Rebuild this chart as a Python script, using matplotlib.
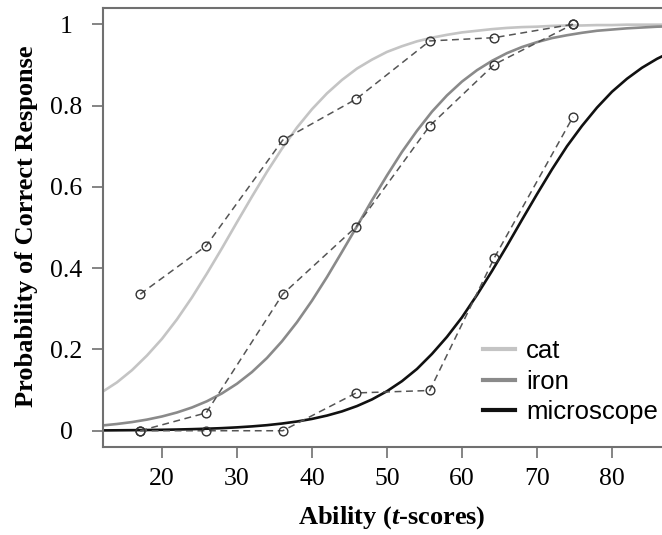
import matplotlib
matplotlib.use("Agg")
import matplotlib.pyplot as plt
from matplotlib.lines import Line2D

# ---------------- data ----------------
ability_grid = [12, 14, 16, 18, 20, 22, 24, 26, 28, 30, 32, 34, 36, 38, 40, 42, 44, 46, 48, 50,
                52, 54, 56, 58, 60, 62, 64, 66, 68, 70, 72, 74, 76, 78, 80, 82, 84, 86, 88, 89.2]
cat_curve = [0.095, 0.119, 0.149, 0.185, 0.226, 0.274, 0.328, 0.387, 0.449, 0.513,
             0.576, 0.637, 0.694, 0.746, 0.791, 0.830, 0.863, 0.891, 0.913, 0.932,
             0.946, 0.958, 0.967, 0.974, 0.980, 0.984, 0.988, 0.991, 0.993, 0.994,
             0.996, 0.997, 0.997, 0.998, 0.998, 0.999, 0.999, 0.999, 0.999, 0.9995]
iron_curve = [0.0129, 0.0166, 0.0213, 0.0274, 0.0351, 0.0449, 0.0572, 0.0726, 0.0919, 0.1156,
              0.1444, 0.179, 0.220, 0.267, 0.320, 0.378, 0.440, 0.503, 0.567, 0.628,
              0.686, 0.738, 0.785, 0.825, 0.859, 0.887, 0.910, 0.929, 0.944, 0.956,
              0.966, 0.973, 0.979, 0.984, 0.987, 0.990, 0.992, 0.994, 0.995, 0.996]
microscope_curve = [0.0008, 0.0011, 0.0014, 0.0018, 0.0023, 0.0030, 0.0039, 0.0050, 0.0064, 0.0083,
                    0.0107, 0.0137, 0.0177, 0.0227, 0.0291, 0.0373, 0.0476, 0.0607, 0.0770, 0.0973,
                    0.122, 0.152, 0.189, 0.231, 0.279, 0.334, 0.393, 0.455, 0.519, 0.582,
                    0.643, 0.700, 0.750, 0.795, 0.834, 0.866, 0.893, 0.915, 0.933, 0.942]

ability_obs = [17.1, 25.9, 36.1, 45.9, 55.7, 64.3, 74.8]
cat_obs = [0.336, 0.455, 0.715, 0.816, 0.959, 0.967, 1.0]
iron_obs = [0.0, 0.044, 0.336, 0.502, 0.750, 0.901, 1.0]
microscope_obs = [0.0, 0.0, 0.0, 0.093, 0.099, 0.425, 0.772]

items = ["cat", "iron", "microscope"]
item_colors = ["#c4c4c4", "#8a8a8a", "#111111"]
x_ticks = [20, 30, 40, 50, 60, 70, 80]
y_ticks = [0, 0.2, 0.4, 0.6, 0.8, 1]
y_tick_labels = ["0", "0.2", "0.4", "0.6", "0.8", "1"]

# ---------------- style ----------------
plt.rcParams["mathtext.fontset"] = "custom"
plt.rcParams["mathtext.rm"] = "Liberation Serif:bold"
plt.rcParams["mathtext.it"] = "Liberation Serif:bold:italic"

W, H = 662, 535
fig = plt.figure(figsize=(W / 100, H / 100), dpi=100)
left_px, right_px, top_px, bottom_px = 103, 681, 8, 447
ax = fig.add_axes([left_px / W, 1 - bottom_px / H, (right_px - left_px) / W, (bottom_px - top_px) / H])
ax.set_xlim(12.14, 89.2)
ax.set_ylim(-0.04, 1.04)

curves = [cat_curve, iron_curve, microscope_curve]
for vals, col in zip(curves, item_colors):
    ax.plot(ability_grid, vals, color=col, lw=1.9, solid_capstyle="round",
            solid_joinstyle="round", zorder=2)

for obs in [cat_obs, iron_obs, microscope_obs]:
    ax.plot(ability_obs, obs, color="#555555", lw=1.1, dashes=(4.5, 3),
            marker="o", markersize=6.3, markerfacecolor="none",
            markeredgecolor="#333333", markeredgewidth=1.0, zorder=3)

spine_col = "#707070"
for s in ax.spines.values():
    s.set_color(spine_col)
    s.set_linewidth(1.5)

ax.set_xticks(x_ticks)
ax.set_yticks(y_ticks)
ax.set_yticklabels(y_tick_labels)
ax.tick_params(direction="out", length=8, width=1.2, color=spine_col, labelsize=18.5)
ax.tick_params(axis="y", pad=18.5)
ax.tick_params(axis="x", pad=7)
for lab in ax.get_xticklabels() + ax.get_yticklabels():
    lab.set_fontfamily("Liberation Serif")
for lab in ax.get_yticklabels():
    lab.set_horizontalalignment("center")

ax.set_xlabel(r"Ability ($\mathit{t}$-scores)", fontsize=19, fontweight="bold",
              family="Liberation Serif")
ax.xaxis.set_label_coords(0.5, (bottom_px - 518) / (bottom_px - top_px))
ax.xaxis.label.set_verticalalignment("center")
ax.set_ylabel("Probability of Correct Response", fontsize=19, fontweight="bold",
              family="Liberation Serif")
ax.yaxis.set_label_coords((27 - left_px) / (right_px - left_px), (bottom_px - 226) / (bottom_px - top_px))
ax.yaxis.label.set_verticalalignment("center")

handles = [Line2D([], [], color=c, lw=3) for c in item_colors]
leg = ax.legend(handles, items, loc="center left",
                bbox_to_anchor=((483 - left_px) / (right_px - left_px), (bottom_px - 381.7) / (bottom_px - top_px)),
                frameon=False, prop={"family": "Liberation Sans", "size": 18.5},
                handlelength=1.25, handletextpad=0.42, labelspacing=0.25,
                borderpad=0, borderaxespad=0)

fig.savefig("out.png", dpi=100)
